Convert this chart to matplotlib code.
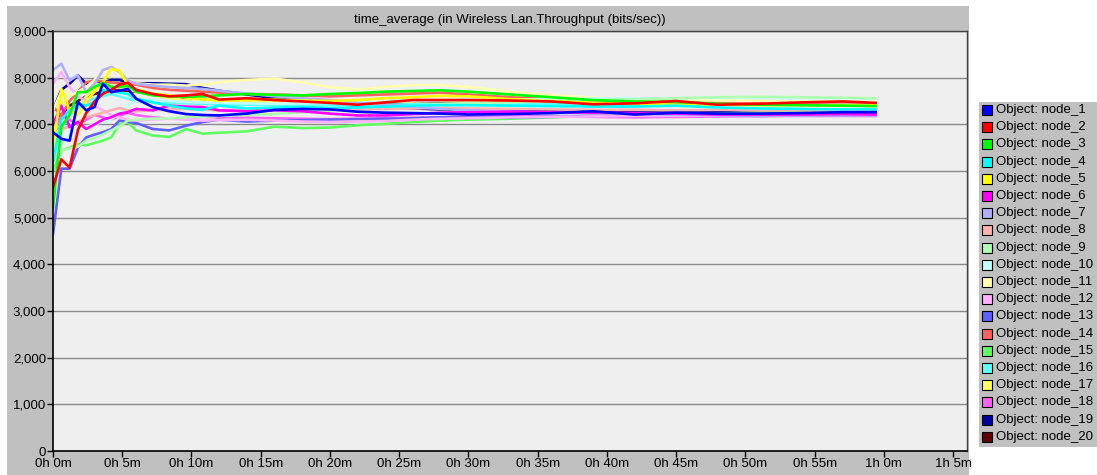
import matplotlib
matplotlib.use("Agg")
import matplotlib.pyplot as plt
from matplotlib.patches import Rectangle

# figure size in pixels
W, H = 1097, 475

# sample times (minutes)
times = [0, 0.6, 1.2, 1.8, 2.4, 3.0, 3.6, 4.2, 4.8, 5.4, 6.0, 7.2, 8.4, 9.6, 10.8, 12,
         14, 16, 18, 20, 22, 24, 26, 28, 30, 33, 36, 39, 42, 45, 48, 51, 54, 57, 59.4]

node_1 = [6830, 6690, 6650, 7480, 7300, 7370, 7870, 7690, 7720, 7760, 7550, 7370, 7280, 7220, 7200, 7190,
          7230, 7310, 7330, 7320, 7270, 7250, 7240, 7230, 7210, 7220, 7240, 7280, 7210, 7250, 7230, 7230, 7240, 7260, 7260]
node_2 = [5650, 6250, 6070, 6880, 7240, 7490, 7650, 7740, 7850, 7890, 7740, 7650, 7600, 7620, 7650, 7530,
          7560, 7520, 7490, 7460, 7420, 7470, 7520, 7520, 7520, 7510, 7490, 7430, 7450, 7500, 7420, 7440, 7470, 7490, 7460]
node_3 = [5200, 6950, 7200, 7690, 7690, 7800, 7890, 7800, 7800, 7830, 7700, 7620, 7600, 7590, 7600, 7620,
          7650, 7630, 7620, 7650, 7670, 7700, 7715, 7730, 7700, 7640, 7580, 7520, 7490, 7480, 7440, 7420, 7410, 7400, 7390]
node_4 = [6200, 7100, 7300, 7440, 7400, 7480, 7730, 7720, 7680, 7650, 7550, 7470, 7400, 7340, 7310, 7400,
          7340, 7360, 7370, 7350, 7360, 7380, 7400, 7410, 7410, 7400, 7390, 7380, 7380, 7400, 7360, 7340, 7330, 7320, 7320]
node_5 = [6500, 7760, 7300, 7200, 7500, 7700, 7900, 8190, 8150, 7850, 7750, 7660, 7620, 7580, 7540, 7510,
          7520, 7530, 7510, 7500, 7520, 7560, 7580, 7610, 7600, 7540, 7500, 7460, 7440, 7420, 7420, 7410, 7410, 7400, 7410]
node_6 = [7000, 7400, 6940, 7050, 6900, 7000, 7100, 7150, 7230, 7260, 7330, 7300, 7400, 7380, 7370, 7300,
          7280, 7300, 7280, 7230, 7190, 7190, 7220, 7250, 7260, 7270, 7260, 7250, 7240, 7230, 7210, 7210, 7210, 7220, 7210]
node_7 = [8160, 8300, 7940, 8050, 7690, 7870, 8160, 8230, 8120, 7940, 7870, 7830, 7800, 7780, 7760, 7720,
          7660, 7600, 7560, 7520, 7460, 7420, 7380, 7330, 7300, 7270, 7250, 7230, 7220, 7210, 7200, 7190, 7190, 7190, 7190]
node_8 = [7000, 6900, 6950, 7050, 7150, 7200, 7250, 7300, 7350, 7300, 7280, 7300, 7320, 7330, 7320, 7300,
          7320, 7340, 7350, 7330, 7320, 7330, 7340, 7350, 7340, 7330, 7320, 7310, 7310, 7300, 7310, 7300, 7300, 7300, 7300]
node_9 = [6200, 6440, 6480, 6520, 6650, 6700, 6780, 6870, 6950, 7080, 7100, 7120, 7130, 7150, 7160, 7180,
          7200, 7220, 7260, 7300, 7330, 7360, 7400, 7430, 7450, 7470, 7500, 7520, 7540, 7560, 7580, 7590, 7580, 7570, 7560]
node_10 = [6300, 6600, 6800, 6900, 6950, 7000, 7050, 7100, 7250, 7400, 7500, 7520, 7500, 7480, 7470, 7460,
           7450, 7440, 7450, 7460, 7470, 7480, 7500, 7510, 7520, 7530, 7540, 7550, 7560, 7560, 7570, 7570, 7560, 7560, 7550]
node_11 = [7300, 7700, 7600, 7700, 7800, 7950, 8150, 8180, 8100, 7950, 7880, 7850, 7850, 7830, 7850, 7900,
           7950, 7980, 7900, 7800, 7740, 7800, 7840, 7840, 7800, 7700, 7630, 7570, 7530, 7520, 7510, 7500, 7490, 7480, 7480]
node_12 = [7870, 8120, 7800, 7600, 7500, 7400, 7300, 7200, 7150, 7100, 7080, 7100, 7120, 7100, 7080, 7090,
           7100, 7080, 7060, 7050, 7060, 7070, 7100, 7120, 7130, 7150, 7160, 7170, 7180, 7180, 7190, 7200, 7200, 7210, 7210]
node_13 = [4650, 6050, 6050, 6500, 6720, 6780, 6830, 6900, 7080, 7050, 7030, 6900, 6870, 6970, 7050, 7100,
           7060, 7080, 7090, 7100, 7110, 7120, 7130, 7150, 7140, 7150, 7160, 7180, 7200, 7210, 7190, 7180, 7190, 7200, 7200]
node_14 = [7380, 7190, 7500, 7700, 7900, 7940, 7920, 7900, 7880, 7880, 7850, 7780, 7740, 7720, 7700, 7680,
           7650, 7640, 7620, 7600, 7620, 7640, 7660, 7680, 7640, 7580, 7540, 7500, 7480, 7470, 7460, 7460, 7470, 7470, 7470]
node_15 = [6000, 6440, 6500, 6580, 6550, 6600, 6650, 6720, 7000, 7050, 6870, 6760, 6730, 6900, 6800, 6820,
           6850, 6950, 6920, 6930, 6980, 7010, 7050, 7080, 7100, 7120, 7150, 7180, 7200, 7220, 7230, 7250, 7260, 7270, 7280]
node_16 = [6500, 6900, 7200, 7350, 7500, 7550, 7600, 7650, 7600, 7550, 7500, 7480, 7460, 7450, 7440, 7430,
           7420, 7420, 7420, 7410, 7410, 7420, 7430, 7440, 7440, 7430, 7430, 7420, 7420, 7430, 7440, 7450, 7460, 7460, 7460]
node_17 = [6800, 7500, 7300, 7400, 7600, 7750, 7850, 7900, 7850, 7750, 7700, 7620, 7560, 7520, 7500, 7480,
           7470, 7480, 7490, 7480, 7470, 7480, 7490, 7500, 7490, 7480, 7470, 7460, 7450, 7440, 7450, 7450, 7440, 7440, 7440]
node_18 = [6700, 7200, 7100, 7000, 7100, 7200, 7150, 7100, 7180, 7250, 7200, 7150, 7120, 7140, 7160, 7150,
           7140, 7130, 7120, 7110, 7120, 7130, 7140, 7150, 7160, 7170, 7170, 7160, 7150, 7160, 7170, 7180, 7180, 7180, 7180]
node_19 = [7300, 7740, 7870, 8050, 7870, 7940, 7900, 7950, 7950, 7900, 7880, 7880, 7870, 7860, 7780, 7720,
           7640, 7560, 7500, 7450, 7400, 7370, 7340, 7320, 7300, 7290, 7280, 7270, 7260, 7260, 7260, 7250, 7250, 7250, 7250]
node_20 = [7000, 7200, 7400, 7500, 7600, 7650, 7700, 7720, 7730, 7720, 7700, 7650, 7600, 7520, 7460, 7450,
           7460, 7470, 7460, 7450, 7440, 7450, 7460, 7470, 7460, 7450, 7440, 7440, 7440, 7440, 7440, 7440, 7440, 7440, 7440]

series = [node_1, node_2, node_3, node_4, node_5, node_6, node_7, node_8, node_9, node_10,
          node_11, node_12, node_13, node_14, node_15, node_16, node_17, node_18, node_19, node_20]
names = ["Object: node_%d" % (i + 1) for i in range(20)]
colors = ["#0000ff", "#ff0000", "#00ff00", "#00ffff", "#ffff00", "#ff00ff",
          "#b0b0ff", "#ffb0b0", "#b0ffb0", "#c0ffff", "#ffffb0", "#ffb0ff",
          "#6060ff", "#ff6060", "#60ff60", "#60ffff", "#ffff60", "#ff60ff",
          "#0000a0", "#600000"]

x_ticks = list(range(0, 70, 5))
y_ticks = list(range(0, 10000, 1000))
title = "time_average (in Wireless Lan.Throughput (bits/sec))"

FONT = "Liberation Sans"
FS = 9.5

fig = plt.figure(figsize=(W / 100, H / 100), dpi=100)
fig.patch.set_facecolor("white")

# grey panel behind the plot
fig.patches.append(Rectangle((7 / W, 0), (969 - 7) / W, (475 - 6) / H,
                             transform=fig.transFigure, fc="#c0c0c0", ec="none", zorder=-5))

ax = fig.add_axes([53 / W, 24 / H, 914 / W, 420 / H])
ax.set_zorder(2)
ax.set_facecolor("#efefef")

# draw later nodes first so node_1 / node_2 end up on top
for i in range(19, -1, -1):
    ax.plot(times, series[i], color=colors[i], lw=1.9, solid_joinstyle="round")

ax.set_xlim(0, 66)
ax.set_ylim(0, 9000)
ax.set_xticks(x_ticks)
ax.set_xticklabels(["%dh %dm" % (m // 60, m % 60) for m in x_ticks], fontsize=FS, family=FONT)
ax.set_yticks(y_ticks)
ax.set_yticklabels(["{:,}".format(v) for v in y_ticks], fontsize=FS, family=FONT)
ax.tick_params(direction="out", length=4, width=1, color="black", pad=1)
ax.yaxis.grid(True, color="#8a8a8a", lw=1)
ax.set_axisbelow(True)
for s in ["left", "bottom"]:
    ax.spines[s].set_color("black")
    ax.spines[s].set_linewidth(1.2)
for s in ["top", "right"]:
    ax.spines[s].set_color("#404040")
    ax.spines[s].set_linewidth(1)

fig.text((53 + 967) / 2 / W, 1 - 20 / H, title, ha="center", va="center", fontsize=FS, family=FONT)

# legend box on the right
fig.patches.append(Rectangle((979 / W, 1 - 447 / H), (1097 - 979) / W, (447 - 102) / H,
                             transform=fig.transFigure, fc="#c0c0c0", ec="none", zorder=-5))
for i in range(20):
    yc = 110 + i * 17.2
    fig.patches.append(Rectangle((982 / W, 1 - (yc + 5) / H), 10 / W, 10 / H,
                                 transform=fig.transFigure, fc=colors[i], ec="black", lw=0.8, zorder=3))
    fig.text(996 / W, 1 - yc / H, names[i], ha="left", va="center", fontsize=FS, family=FONT)

fig.savefig("out.png", dpi=100)
